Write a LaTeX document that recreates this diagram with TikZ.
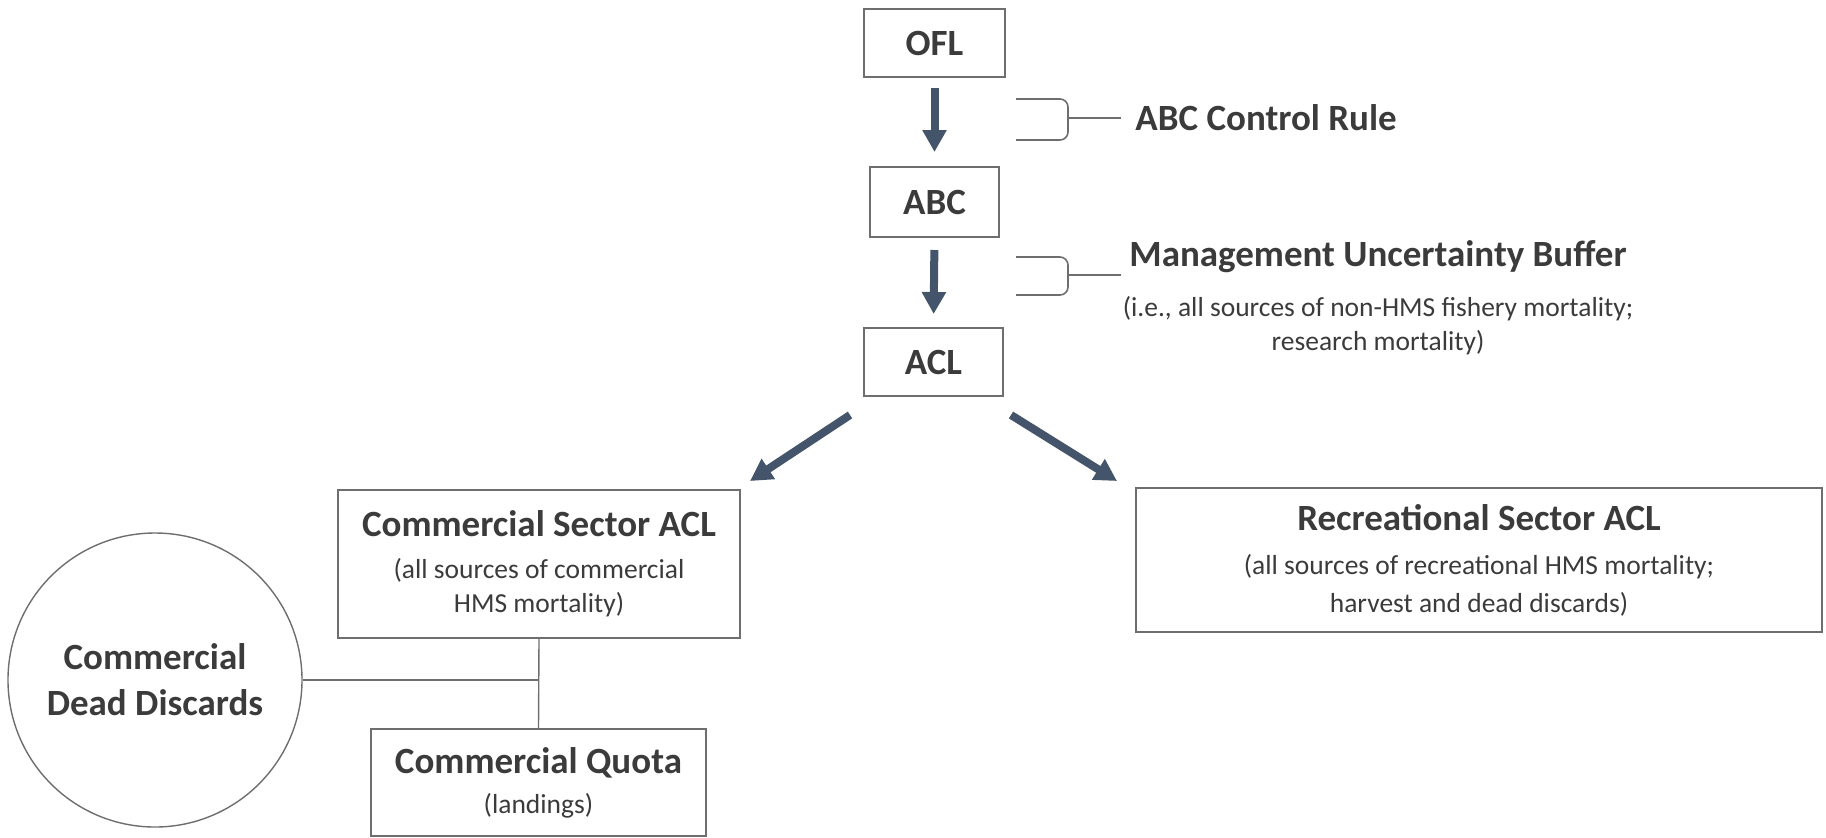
\documentclass[tikz,border=0pt]{standalone}
\usepackage{fontspec}
\setmainfont{Carlito}
\usetikzlibrary{arrows.meta}

\definecolor{arrowblue}{HTML}{44546A}
\definecolor{boxgray}{HTML}{6E6E6E}
\definecolor{textgray}{HTML}{3B3B3B}

\newcommand{\hdfont}{\fontsize{18.5}{22}\selectfont\bfseries}
\newcommand{\notefont}{\fontsize{13.75}{17}\selectfont}

\tikzset{
  box/.style={draw=boxgray, line width=1pt, align=center, inner sep=0pt},
  flow/.style={draw=arrowblue, line width=4pt, -{Triangle[width=11.5pt,length=11pt]}},
  brace/.style={draw=boxgray, line width=0.8pt, rounded corners=4pt},
  link/.style={draw=boxgray, line width=0.7pt}
}

\begin{document}
\begin{tikzpicture}[x=0.5pt, y=-0.5pt, text=textgray]
\useasboundingbox (0,0) rectangle (1826,837);

\node[box, minimum width=70.5pt, minimum height=34pt, font=\hdfont] (ofl) at (934.5,43) {OFL};
\node[box, minimum width=64.5pt, minimum height=35pt, font=\hdfont] (abc) at (934.5,202) {ABC};
\node[box, minimum width=69.5pt, minimum height=34pt, font=\hdfont] (acl) at (933.5,362) {ACL};

\draw[flow, shorten <=5pt, shorten >=7pt] (ofl.south) -- (abc.north);
\draw[flow, shorten <=6pt, shorten >=6.5pt] (abc.south) -- (acl.north);

\node[anchor=west, inner sep=0pt, font=\hdfont] (rule) at (1135,118) {ABC Control Rule};
\coordinate (br1) at (1068,118);
\draw[brace] (1016,99) -- (1068,99) -- (1068,140) -- (1016,140);
\draw[link] (br1) -- ([xshift=-7pt]rule.west);

\node[anchor=west, inner sep=0pt, font=\hdfont] (mub) at (1129,257) {Management Uncertainty Buffer};
\node[align=center, inner sep=0pt, font=\notefont] (mubnote) at ([yshift=-34.5pt]mub.center)
  {(i.e., all sources of non-HMS fishery mortality;\\ research mortality)};
\coordinate (br2) at (1068,275);
\coordinate (br2end) at (1121,275);
\draw[brace] (1016,257) -- (1068,257) -- (1068,295) -- (1016,295);
\draw[link] (br2) -- (br2end);

\node[box, minimum width=201pt, minimum height=74pt, font=\notefont] (comm) at (539,564)
  {{\hdfont Commercial Sector ACL}\\[4pt] (all sources of commercial\\ HMS mortality)};
\node[box, minimum width=343pt, minimum height=72pt, font=\notefont] (rec) at (1479,560)
  {{\hdfont Recreational Sector ACL}\\[5pt] (all sources of recreational HMS mortality;\\[2pt] harvest and dead discards)};
\node[box, minimum width=167.5pt, minimum height=53.5pt, font=\notefont] (quota) at (538.5,782.5)
  {{\hdfont Commercial Quota}\\[3pt] (landings)};
\node[draw=boxgray, line width=0.7pt, circle, minimum size=147pt, inner sep=0pt, align=center, font=\hdfont] (disc) at (155,680)
  {Commercial\\[1pt] Dead Discards};

\draw[flow] ([shift={(-13,18)}]acl.south west) -- ([shift={(9,-8)}]comm.north east);
\draw[flow] ([shift={(7,18)}]acl.south east) -- ([shift={(-18,-6)}]rec.north west);

\draw[link] (comm.south) -- (quota.north);
\draw[link] (disc.east) -- (comm.south |- disc.east);
\end{tikzpicture}
\end{document}
